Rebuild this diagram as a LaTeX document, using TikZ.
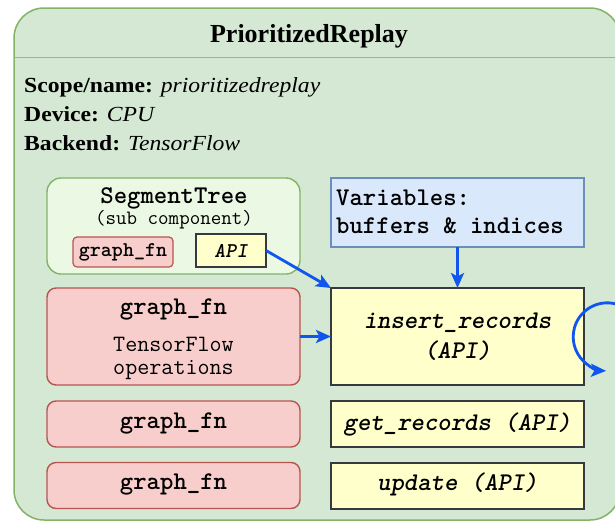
\documentclass[tikz,border=0pt]{standalone}
\usepackage{fontspec}
\setmainfont{Liberation Serif}
\newfontfamily\infofont{Liberation Serif}[FakeStretch=1.1]
\usetikzlibrary{arrows.meta}

\definecolor{compfill}{HTML}{D5E8D4}
\definecolor{compline}{HTML}{82B366}
\definecolor{subfill}{HTML}{EAF8E4}
\definecolor{fnfill}{HTML}{F8CECC}
\definecolor{fnline}{HTML}{B85450}
\definecolor{apifill}{HTML}{FFFFCC}
\definecolor{apiline}{HTML}{36393D}
\definecolor{varfill}{HTML}{DAE8FC}
\definecolor{varline}{HTML}{6C8EBF}
\definecolor{flowblue}{HTML}{0F55EE}
\definecolor{sepgray}{HTML}{A8A8A8}

% heavier typewriter bold for code labels
\newcommand{\codebf}[1]{\ttfamily\bfseries\fontsize{#1}{1.15\dimexpr#1pt\relax}\selectfont\addfontfeature{FakeBold=2.5}}
\newcommand{\codebfit}[1]{\ttfamily\bfseries\itshape\fontsize{#1}{1.15\dimexpr#1pt\relax}\selectfont\addfontfeature{FakeBold=2.5}}

\tikzset{
  box/.style={inner sep=0pt, outer sep=0pt},
  fnbox/.style={box, draw=fnline, fill=fnfill, line width=1.4pt, rounded corners=9pt},
  smallfn/.style={box, draw=fnline, fill=fnfill, line width=1.2pt, rounded corners=4pt},
  apibox/.style={box, draw=apiline, fill=apifill, line width=2pt},
  varbox/.style={box, draw=varline, fill=varfill, line width=1.4pt},
  subbox/.style={box, draw=compline, fill=subfill, line width=1.4pt, rounded corners=14pt},
  mono/.style={font=\codebf{25.5}, inner sep=0pt, anchor=base},
  monoit/.style={font=\codebfit{25.5}, inner sep=0pt, anchor=base},
  monosmall/.style={font=\codebf{21}, inner sep=0pt, anchor=base},
  monoplain/.style={font=\ttfamily\fontsize{23.4}{27}\selectfont, inner sep=0pt, anchor=base},
  info/.style={font=\infofont\fontsize{21.5}{25}\selectfont, inner sep=0pt, anchor=base west},
  flow/.style={draw=flowblue, line width=2.8pt, -{Stealth[length=15pt,width=13pt,inset=3.5pt]}},
}

\begin{document}
\begin{tikzpicture}[x=1pt,y=-1pt]
\useasboundingbox (0,0) rectangle (615,522);
\clip (0,0) rectangle (615,522);

% component container
\node[box, draw=compline, fill=compfill, line width=1.5pt, rounded corners=30pt,
      minimum width=606, minimum height=512] (replay) at (317,264) {};
\draw[sepgray, line width=1pt] (replay.west |- 0,57) -- (replay.east |- 0,57);
\node[font=\bfseries\fontsize{26}{30}\selectfont, inner sep=0pt, anchor=base] (title) at (309,42) {PrioritizedReplay};

% properties
\node[info] (scope) at (24,92) {\textbf{Scope/name:} \textit{prioritizedreplay}};
\node[info] (device) at (24,121) {\textbf{Device:} \textit{CPU}};
\node[info] (backend) at (24,150) {\textbf{Backend:} \textit{TensorFlow}};

% sub component
\node[subbox, minimum width=253, minimum height=96] (segtree) at (173.5,226) {};
\node[mono] (segname) at (174,203) {SegmentTree};
\node[font=\ttfamily\fontsize{20.4}{24}\selectfont, inner sep=0pt, anchor=base] (segsub) at (174,224) {(sub component)};
\node[smallfn, minimum width=100, minimum height=30] (segfn) at (123,252) {};
\node[monosmall] (segfntext) at (123,256) {graph\_fn};
\node[apibox, minimum width=70, minimum height=33] (segapi) at (231,250.5) {};
\node[font=\codebfit{21}, inner sep=0pt, anchor=base] (segapitext) at (231,257) {API};

% variables
\node[varbox, minimum width=253, minimum height=69] (vars) at (457.5,212.5) {};
\node[mono, anchor=base west] (varsa) at (336,205) {Variables:};
\node[mono, anchor=base west] (varsb) at (336,233) {buffers \& indices};

% graph functions
\node[fnbox, minimum width=253, minimum height=97] (fnmain) at (173.5,336.5) {};
\node[mono] (fnmaintext) at (173.5,314) {graph\_fn};
\node[monoplain] (fnops1) at (173.5,351) {TensorFlow};
\node[monoplain] (fnops2) at (173.5,374) {operations};
\node[fnbox, minimum width=253, minimum height=46] (fnget) at (173.5,424) {};
\node[mono] (fngettext) at (173.5,428) {graph\_fn};
\node[fnbox, minimum width=253, minimum height=46] (fnupd) at (173.5,485.5) {};
\node[mono] (fnupdtext) at (173.5,489) {graph\_fn};

% API methods
\node[apibox, minimum width=253, minimum height=97] (insert) at (457.5,336.5) {};
\node[monoit] (inserta) at (457.5,328) {insert\_records};
\node[monoit] (insertb) at (457.5,358) {(API)};
\node[apibox, minimum width=253, minimum height=46] (get) at (457.5,424) {};
\node[monoit] (gettext) at (457.5,430) {get\_records (API)};
\node[apibox, minimum width=253, minimum height=46] (upd) at (457.5,485.5) {};
\node[monoit] (updtext) at (457.5,490) {update (API)};

% data flow
\draw[flow] (segapi.east) -- (insert.north west);
\draw[flow] (fnmain.east) -- (insert.west);
\draw[flow] (vars.south) -- (insert.north);
\coordinate (loopstart) at (616,304);
\draw[flow] (loopstart) arc[start angle=-75, end angle=-268, radius=34];
\end{tikzpicture}
\end{document}
